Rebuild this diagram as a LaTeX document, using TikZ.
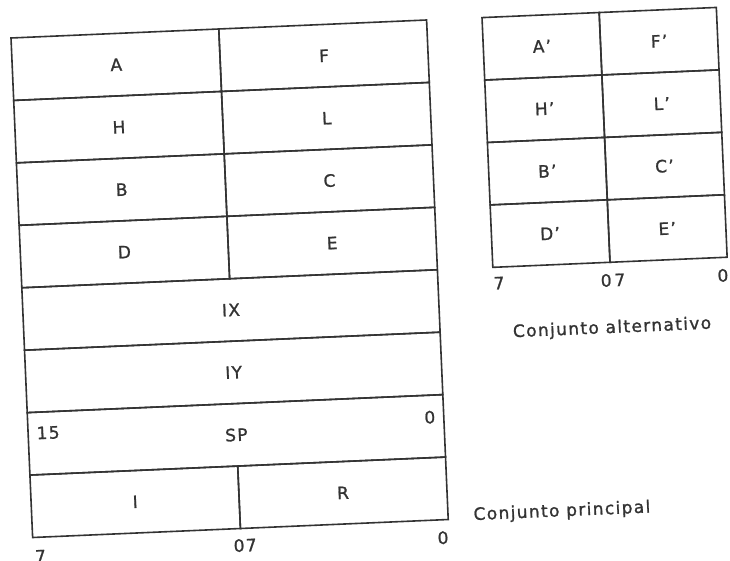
\documentclass[tikz,border=0pt]{standalone}
\usepackage{fontspec}
\setmainfont{DejaVu Sans}[LetterSpace=8,FakeBold=1.2]
\newcommand\regfont{\fontsize{17}{20}\selectfont}
\begin{document}
\begin{tikzpicture}[x=1pt,y=-1pt,
  ink/.style={draw=black!80, line width=1.6pt},
  cell/.style={ink, rectangle, inner sep=0pt, outer sep=0pt,
    minimum height=62.5pt, transform shape, text=black!80, font=\regfont},
  halfmain/.style={cell, minimum width=208pt},
  fullmain/.style={cell, minimum width=416pt},
  halfalt/.style={cell, minimum width=117.25pt},
  lbl/.style={inner sep=0pt, transform shape, text=black!80, font=\regfont}]
\useasboundingbox (0,0) rectangle (730,561);
\begin{scope}[rotate around={2.48:(11,38)}]
  % main set
  \node[halfmain] (A) at (115,69.25) {A};
  \node[halfmain] (F) at (323,69.25) {F};
  \node[halfmain] (H) at (115,131.75) {H};
  \node[halfmain] (L) at (323,131.75) {L};
  \node[halfmain] (B) at (115,194.25) {B};
  \node[halfmain] (C) at (323,194.25) {C};
  \node[halfmain] (D) at (115,256.75) {D};
  \node[halfmain] (E) at (323,256.75) {E};
  \node[fullmain] (IX) at (219,319.25) {IX};
  \node[fullmain] (IY) at (219,381.75) {IY};
  \node[fullmain] (SP) at (219,444.25) {SP};
  \node[halfmain] (I) at (115,506.75) {I};
  \node[halfmain] (R) at (323,506.75) {R};
  \node[lbl] (sp15) at (31,434) {15};
  \node[lbl] (sp0) at (413,435) {0};
  \node[lbl] (m7) at (18,557) {7};
  \node[lbl] (m07) at (223,555) {07};
  \node[lbl] (m0) at (421,556) {0};
  \node[lbl] (cp) at (541,535) {Conjunto principal};
  % alternate set
  \node[halfalt] (Ap) at (541.1,69.25) {A'};
  \node[halfalt] (Fp) at (658.4,69.25) {F'};
  \node[halfalt] (Hp) at (541.1,131.75) {H'};
  \node[halfalt] (Lp) at (658.4,131.75) {L'};
  \node[halfalt] (Bp) at (541.1,194.25) {B'};
  \node[halfalt] (Cp) at (658.4,194.25) {C'};
  \node[halfalt] (Dp) at (541.1,256.75) {D'};
  \node[halfalt] (Ep) at (658.4,256.75) {E'};
  \node[lbl] (a7) at (488,304) {7};
  \node[lbl] (a07) at (602,306) {0\,7};
  \node[lbl] (a0) at (712,306) {0};
  \node[lbl] (ca) at (599,354) {Conjunto alternativo};
\end{scope}
\end{tikzpicture}
\end{document}
